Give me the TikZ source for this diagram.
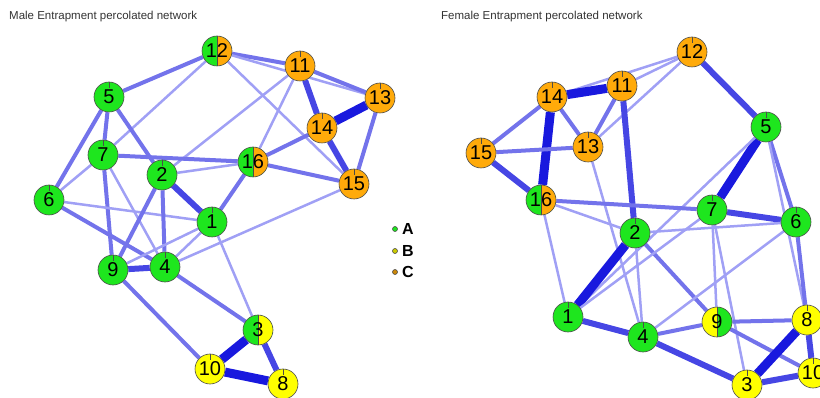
\documentclass[tikz,border=0pt]{standalone}
\usepackage{fontspec}
\setmainfont{Liberation Sans}
\usetikzlibrary{backgrounds}
\definecolor{vgreen}{RGB}{30,230,30}
\definecolor{vorange}{RGB}{255,170,10}
\definecolor{vyellow}{RGB}{255,255,0}
\definecolor{eone}{RGB}{160,160,245}
\definecolor{etwo}{RGB}{115,115,235}
\definecolor{ethree}{RGB}{70,70,228}
\definecolor{efour}{RGB}{25,25,222}
\begin{document}
\begin{tikzpicture}[x=1pt,y=-1pt]
\tikzstyle{every node}=[minimum size=30pt, inner sep=0pt, circle, font=\fontsize{20}{20}\selectfont]
\tikzstyle{v}=[draw=black!70, line width=.6pt, fill=#1, path picture={\draw[black!70,line width=.6pt] (path picture bounding box.north) -- ++(0,-6pt);}]
\tikzstyle{pie}=[draw=black!70, line width=.6pt, fill=vgreen, path picture={\fill[#1] (path picture bounding box.north) rectangle (path picture bounding box.south east); \draw[black!70,line width=.6pt] (path picture bounding box.north) -- (path picture bounding box.south);}]
\tikzstyle{e1}=[draw=eone, line width=2.5pt]
\tikzstyle{e2}=[draw=etwo, line width=4pt]
\tikzstyle{e3}=[draw=ethree, line width=6pt]
\tikzstyle{e4}=[draw=efour, line width=9pt]
\useasboundingbox (0,0) rectangle (820,398);
% titles
\node (mtitle) [rectangle, minimum size=0pt, anchor=base west, text=black!80, font=\fontsize{11.5}{12}\selectfont] at (9,20) {Male Entrapment percolated network};
\node (ftitle) [rectangle, minimum size=0pt, anchor=base west, text=black!80, font=\fontsize{11.5}{12}\selectfont] at (441,20) {Female Entrapment percolated network};
% male network
\draw (212,222) node (m1) [v=vgreen] {1};
\draw (162,175) node (m2) [v=vgreen] {2};
\draw (258,330) node (m3) [pie=vyellow] {3};
\draw (165,267) node (m4) [v=vgreen] {4};
\draw (109,97) node (m5) [v=vgreen] {5};
\draw (49,200) node (m6) [v=vgreen] {6};
\draw (103,155) node (m7) [v=vgreen] {7};
\draw (283,384) node (m8) [v=vyellow] {8};
\draw (113,270) node (m9) [v=vgreen] {9};
\draw (210,369) node (m10) [v=vyellow] {10};
\draw (300,66) node (m11) [v=vorange] {11};
\draw (217,51) node (m12) [pie=vorange] {12};
\draw (380,98) node (m13) [v=vorange] {13};
\draw (322,128) node (m14) [v=vorange] {14};
\draw (354,184) node (m15) [v=vorange] {15};
\draw (253,162) node (m16) [pie=vorange] {16};
% female network
\draw (568,317) node (f1) [v=vgreen] {1};
\draw (635,233) node (f2) [v=vgreen] {2};
\draw (747,385) node (f3) [v=vyellow] {3};
\draw (643,337) node (f4) [v=vgreen] {4};
\draw (766,127) node (f5) [v=vgreen] {5};
\draw (796,222) node (f6) [v=vgreen] {6};
\draw (712,210) node (f7) [v=vgreen] {7};
\draw (807,320) node (f8) [v=vyellow] {8};
\draw (717,322) node (f9) [pie=vgreen, fill=vyellow, path picture={\fill[vgreen] (path picture bounding box.north) rectangle (path picture bounding box.south east); \draw[black!70,line width=.6pt] (path picture bounding box.north) -- (path picture bounding box.south);}] {9};
\draw (813,373) node (f10) [v=vyellow] {10};
\draw (622,86) node (f11) [v=vorange] {11};
\draw (692,52) node (f12) [v=vorange] {12};
\draw (588,147) node (f13) [v=vorange] {13};
\draw (552,97) node (f14) [v=vorange] {14};
\draw (481,153) node (f15) [v=vorange] {15};
\draw (541,200) node (f16) [pie=vorange] {16};
% legend
\draw (395,229) node (la) [v=vgreen, minimum size=5pt, path picture={}] {};
\draw (395,251) node (lb) [v=vyellow!80!black, minimum size=5pt, path picture={}] {};
\draw (395,272) node (lc) [v=vorange!80!black, minimum size=5pt, path picture={}] {};
\node (ta) [rectangle, minimum size=0pt, anchor=west, font=\fontsize{16}{16}\selectfont\bfseries] at (402,229) {A};
\node (tb) [rectangle, minimum size=0pt, anchor=west, font=\fontsize{16}{16}\selectfont\bfseries] at (402,251) {B};
\node (tc) [rectangle, minimum size=0pt, anchor=west, font=\fontsize{16}{16}\selectfont\bfseries] at (402,272) {C};
\begin{scope}[on background layer]
% male edges
\draw[e2] (m12) -- (m5);
\draw[e2] (m12) -- (m11);
\draw[e1] (m12) -- (m13);
\draw[e1] (m12) -- (m7);
\draw[e1] (m12) -- (m15);
\draw[e2] (m11) -- (m13);
\draw[e3] (m11) -- (m14);
\draw[e1] (m11) -- (m2);
\draw[e1] (m11) -- (m16);
\draw[e4] (m13) -- (m14);
\draw[e2] (m13) -- (m15);
\draw[e3] (m14) -- (m15);
\draw[e2] (m14) -- (m16);
\draw[e2] (m16) -- (m15);
\draw[e2] (m16) -- (m7);
\draw[e1] (m16) -- (m2);
\draw[e2] (m16) -- (m1);
\draw[e2] (m5) -- (m7);
\draw[e2] (m5) -- (m6);
\draw[e2] (m5) -- (m2);
\draw[e1] (m7) -- (m6);
\draw[e2] (m7) -- (m9);
\draw[e1] (m7) -- (m4);
\draw[e1] (m6) -- (m1);
\draw[e2] (m6) -- (m4);
\draw[e2] (m2) -- (m9);
\draw[e2] (m2) -- (m4);
\draw[e3] (m2) -- (m1);
\draw[e3] (m9) -- (m4);
\draw[e1] (m9) -- (m1);
\draw[e1] (m4) -- (m1);
\draw[e1] (m4) -- (m15);
\draw[e2] (m4) -- (m3);
\draw[e2] (m9) -- (m10);
\draw[e1] (m1) -- (m3);
\draw[e4] (m3) -- (m10);
\draw[e4] (m10) -- (m8);
\draw[e3] (m3) -- (m8);
% female edges
\draw[e3] (f12) -- (f5);
\draw[e1] (f12) -- (f11);
\draw[e1] (f12) -- (f14);
\draw[e1] (f12) -- (f13);
\draw[e4] (f14) -- (f11);
\draw[e2] (f14) -- (f15);
\draw[e2] (f14) -- (f13);
\draw[e4] (f14) -- (f16);
\draw[e2] (f11) -- (f13);
\draw[e3] (f11) -- (f2);
\draw[e2] (f15) -- (f13);
\draw[e3] (f15) -- (f16);
\draw[e1] (f13) -- (f4);
\draw[e4] (f5) -- (f7);
\draw[e2] (f5) -- (f6);
\draw[e1] (f5) -- (f8);
\draw[e1] (f5) -- (f1);
\draw[e2] (f16) -- (f7);
\draw[e1] (f16) -- (f2);
\draw[e1] (f16) -- (f1);
\draw[e3] (f7) -- (f6);
\draw[e1] (f7) -- (f9);
\draw[e1] (f7) -- (f3);
\draw[e1] (f2) -- (f6);
\draw[e4] (f2) -- (f1);
\draw[e1] (f2) -- (f4);
\draw[e2] (f2) -- (f9);
\draw[e1] (f1) -- (f7);
\draw[e3] (f1) -- (f4);
\draw[e1] (f4) -- (f6);
\draw[e2] (f4) -- (f9);
\draw[e3] (f4) -- (f3);
\draw[e2] (f9) -- (f8);
\draw[e2] (f9) -- (f10);
\draw[e4] (f8) -- (f3);
\draw[e3] (f8) -- (f10);
\draw[e3] (f3) -- (f10);
\draw[e2] (f6) -- (f8);
\end{scope}
\end{tikzpicture}
\end{document}
